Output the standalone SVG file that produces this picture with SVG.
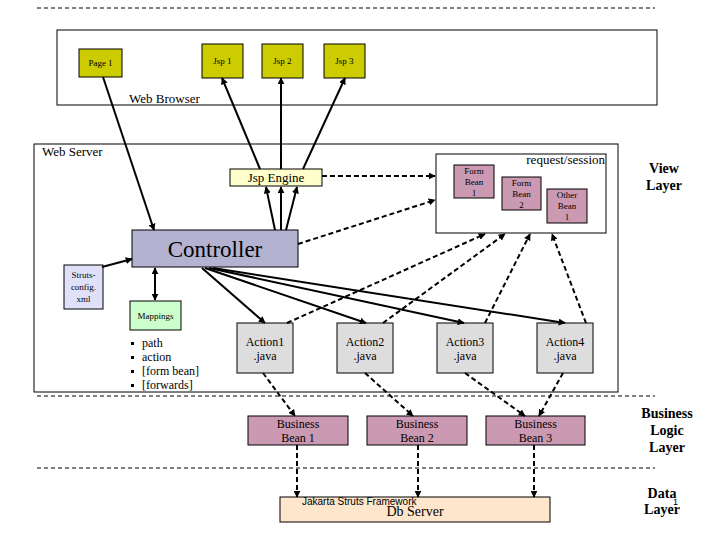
<svg xmlns="http://www.w3.org/2000/svg" width="720" height="540" viewBox="0 0 720 540">
<defs>
<marker id="ah" viewBox="0 0 10 10" refX="9" refY="5" markerWidth="7" markerHeight="7" markerUnits="userSpaceOnUse" orient="auto-start-reverse">
<path d="M0,0 L10,5 L0,10 z" fill="#000"/>
</marker>
<style>
text{font-family:"Liberation Serif","Times New Roman",serif;fill:#000}
.box{stroke:#000;stroke-width:1}
.s9{font-size:9px}
.s12{font-size:12px}
.s13{font-size:13px}
.lay{font-size:14px;font-weight:bold;text-anchor:middle}
.mid{text-anchor:middle}
.sep{stroke:#000;stroke-width:1;stroke-dasharray:4,3;fill:none}
.sol{stroke:#000;stroke-width:2;fill:none;marker-end:url(#ah)}
.dash{stroke:#000;stroke-width:2;stroke-dasharray:5,3;fill:none;marker-end:url(#ah)}
.jsp{fill:#cccc00}
.bean{fill:#cc99b2}
.act{fill:#dddddd}
</style>
</defs>
<rect width="720" height="540" fill="#fff"/>
<g id="separators">
<line class="sep" x1="37" y1="8" x2="655" y2="8"/>
<line class="sep" x1="37" y1="396" x2="655" y2="396"/>
<line class="sep" x1="37" y1="468" x2="655" y2="468"/>
</g>
<g id="web-browser">
<rect class="box" x="57" y="30" width="600" height="75" fill="none"/>
<text class="s13" x="129" y="103">Web Browser</text>
</g>
<g id="web-server">
<rect class="box" x="34" y="144" width="584" height="248" fill="none"/>
<text class="s13" x="42" y="156">Web Server</text>
</g>
<g id="page1"><rect class="box jsp" x="79" y="49" width="43" height="28"/><text class="s9 mid" x="100.5" y="66">Page 1</text></g>
<g id="jsp1"><rect class="box jsp" x="202" y="44" width="41" height="34"/><text class="s9 mid" x="222.5" y="64">Jsp 1</text></g>
<g id="jsp2"><rect class="box jsp" x="262" y="44" width="41" height="34"/><text class="s9 mid" x="282.5" y="64">Jsp 2</text></g>
<g id="jsp3"><rect class="box jsp" x="324" y="44" width="41" height="34"/><text class="s9 mid" x="344.5" y="64">Jsp 3</text></g>
<g id="jsp-engine"><rect class="box" x="230" y="169" width="92" height="17" fill="#ffffcc"/><text class="s13 mid" x="276" y="182">Jsp Engine</text></g>
<g id="controller"><rect class="box" x="132" y="230" width="166" height="37" fill="#b3b3d1"/><text class="mid" style="font-size:23px" x="215" y="257">Controller</text></g>
<g id="request-session">
<rect class="box" x="436" y="154" width="170" height="79" fill="#fff"/>
<text class="s13" x="605" y="164" text-anchor="end">request/session</text>
</g>
<g id="form-bean-1"><rect class="box bean" x="454" y="165" width="40" height="33"/><text class="s9 mid" x="474" y="174">Form</text><text class="s9 mid" x="474" y="185">Bean</text><text class="s9 mid" x="474" y="196">1</text></g>
<g id="form-bean-2"><rect class="box bean" x="502" y="177" width="39" height="33"/><text class="s9 mid" x="521.5" y="186">Form</text><text class="s9 mid" x="521.5" y="197">Bean</text><text class="s9 mid" x="521.5" y="208">2</text></g>
<g id="other-bean-1"><rect class="box bean" x="547" y="189" width="40" height="34"/><text class="s9 mid" x="567" y="198">Other</text><text class="s9 mid" x="567" y="209">Bean</text><text class="s9 mid" x="567" y="220">1</text></g>
<g id="struts-config"><rect class="box" x="64" y="265" width="39" height="44" fill="#e0e0f8"/><text class="s9 mid" x="83.5" y="278">Struts-</text><text class="s9 mid" x="83.5" y="290">config.</text><text class="s9 mid" x="83.5" y="302">xml</text></g>
<g id="mappings"><rect class="box" x="130" y="301" width="51" height="29" fill="#ccffcc"/><text class="s9 mid" x="155.5" y="319">Mappings</text></g>
<g id="mapping-list">
<rect x="131" y="342" width="3" height="3" fill="#000"/><text class="s12" x="142" y="347">path</text>
<rect x="131" y="356" width="3" height="3" fill="#000"/><text class="s12" x="142" y="361">action</text>
<rect x="131" y="370" width="3" height="3" fill="#000"/><text class="s12" x="142" y="375">[form bean]</text>
<rect x="131" y="384" width="3" height="3" fill="#000"/><text class="s12" x="142" y="389">[forwards]</text>
</g>
<g id="action1"><rect class="box act" x="237" y="323" width="56" height="50"/><text class="s12 mid" x="265" y="346">Action1</text><text class="s12 mid" x="265" y="360">.java</text></g>
<g id="action2"><rect class="box act" x="337" y="323" width="56" height="50"/><text class="s12 mid" x="365" y="346">Action2</text><text class="s12 mid" x="365" y="360">.java</text></g>
<g id="action3"><rect class="box act" x="437" y="323" width="56" height="50"/><text class="s12 mid" x="465" y="346">Action3</text><text class="s12 mid" x="465" y="360">.java</text></g>
<g id="action4"><rect class="box act" x="537" y="323" width="56" height="50"/><text class="s12 mid" x="565" y="346">Action4</text><text class="s12 mid" x="565" y="360">.java</text></g>
<g id="business-bean-1"><rect class="box bean" x="248" y="416" width="100" height="29"/><text class="s12 mid" x="298" y="428">Business</text><text class="s12 mid" x="298" y="442">Bean 1</text></g>
<g id="business-bean-2"><rect class="box bean" x="367" y="416" width="100" height="29"/><text class="s12 mid" x="417" y="428">Business</text><text class="s12 mid" x="417" y="442">Bean 2</text></g>
<g id="business-bean-3"><rect class="box bean" x="486" y="416" width="99" height="29"/><text class="s12 mid" x="535.5" y="428">Business</text><text class="s12 mid" x="535.5" y="442">Bean 3</text></g>
<g id="db-server"><rect class="box" x="280" y="497" width="270" height="25" fill="#fde6cc"/><text class="mid" style="font-size:14px" x="415" y="516">Db Server</text><text x="302" y="505" style="font-family:'Liberation Sans',Arial,sans-serif;font-size:10px">Jakarta Struts Framework</text></g>
<g id="layer-labels">
<text class="lay" x="664" y="173">View</text><text class="lay" x="664" y="190">Layer</text>
<text class="lay" x="667" y="418">Business</text><text class="lay" x="667" y="435">Logic</text><text class="lay" x="667" y="452">Layer</text>
<text class="lay" x="662" y="498">Data</text><text class="lay" x="662" y="514">Layer</text>
<text x="673" y="505" style="font-family:'Liberation Sans',Arial,sans-serif;font-size:9px">1</text>
</g>
<g id="connectors">
<line class="sol" x1="103" y1="77" x2="154" y2="230"/>
<line class="sol" x1="260" y1="169" x2="222" y2="78"/>
<line class="sol" x1="281" y1="169" x2="281" y2="78"/>
<line class="sol" x1="303" y1="169" x2="345" y2="78"/>
<line class="sol" x1="275" y1="230" x2="266" y2="187"/>
<line class="sol" x1="281" y1="230" x2="281" y2="187"/>
<line class="sol" x1="286" y1="230" x2="297" y2="187"/>
<line class="sol" x1="102" y1="267" x2="132" y2="259"/>
<line class="sol" x1="155" y1="284" x2="155" y2="268"/>
<line class="sol" x1="155" y1="284" x2="155" y2="300"/>
<line class="sol" x1="202" y1="268" x2="265" y2="323"/>
<line class="sol" x1="205" y1="268" x2="366" y2="323"/>
<line class="sol" x1="209" y1="268" x2="464" y2="323"/>
<line class="sol" x1="213" y1="268" x2="565" y2="323"/>
<line class="dash" x1="322" y1="176" x2="435" y2="176"/>
<line class="dash" x1="298" y1="244" x2="435" y2="200"/>
<line class="dash" x1="287" y1="323" x2="485" y2="234"/>
<line class="dash" x1="383" y1="323" x2="505" y2="234"/>
<line class="dash" x1="485" y1="323" x2="530" y2="234"/>
<line class="dash" x1="586" y1="323" x2="552" y2="234"/>
<line class="dash" x1="263" y1="373" x2="295" y2="416"/>
<line class="dash" x1="365" y1="373" x2="413" y2="416"/>
<line class="dash" x1="465" y1="373" x2="525" y2="416"/>
<line class="dash" x1="563" y1="373" x2="539" y2="416"/>
<line class="dash" x1="297" y1="445" x2="297" y2="497"/>
<line class="dash" x1="418" y1="445" x2="418" y2="497"/>
<line class="dash" x1="534" y1="445" x2="534" y2="497"/>
</g>
</svg>
